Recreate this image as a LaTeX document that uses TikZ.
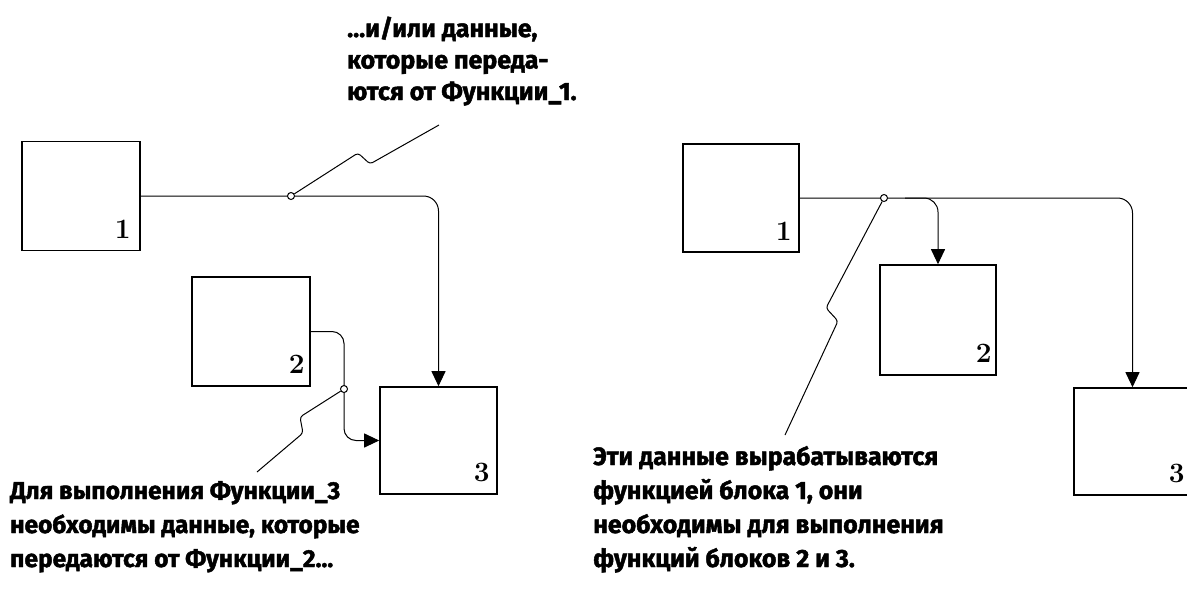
\documentclass[tikz,border=0pt]{standalone}
\usepackage{fontspec}
\newfontfamily\hand{Fira Sans}[BoldFeatures={FakeBold=1.8}]
\usetikzlibrary{arrows.meta,calc}
\begin{document}
\begin{tikzpicture}[x=1pt,y=-1pt,
  box/.style={draw,line width=1.6pt,inner sep=0pt},
  flow/.style={line width=1pt,-{Triangle[length=15pt,width=14pt]}},
  junc/.style={circle,draw,line width=1pt,fill=white,inner sep=0pt,minimum size=7pt},
  callout/.style={line width=1pt,rounded corners=3pt},
  note/.style={inner sep=0pt,anchor=base west,font=\hand\bfseries},
  num/.style={inner sep=0pt,anchor=base east,font=\fontsize{28}{28}\selectfont\bfseries}]
\useasboundingbox (0,0) rectangle (1187,592);
\clip (0,0) rectangle (1187,592);
% ---------- left diagram ----------
\node[box,minimum width=118pt,minimum height=109pt] (b1L) at (81,196) {};
\node[box,minimum width=118pt,minimum height=109pt] (b2L) at (251,331.5) {};
\node[box,minimum width=117pt,minimum height=107pt] (b3L) at (438.5,440.5) {};
\node[num] (n1L) at ($(b1L.south east)+(-10,-13)$) {1};
\node[num] (n2L) at ($(b2L.south east)+(-6,-13)$) {2};
\node[num] (n3L) at ($(b3L.south east)+(-8,-13)$) {3};
\draw[flow,rounded corners=15pt] (b1L.east) -| (b3L.north);
\coordinate (k2) at (344,389);
\draw[flow,rounded corners=12pt] (b2L.east) -| (k2) |- (b3L.west);
\node[junc] (j1) at (291,196) {};
\node[junc] (j2) at (k2) {};
\coordinate (c1) at (439,125);
\coordinate (c2) at (257,472);
\draw[callout] (j1) -- (358,153) -- (370,164) -- (c1);
\draw[callout] (j2) -- (300,417) -- (303,433) -- (c2);
\node[note] (t1) at (347,37) {\parbox[t]{280pt}{\fontsize{25}{31.5}\selectfont ...и/или данные,\\которые переда-\\ются от Функции\_1.}};
\node[note] (t2) at (10,499) {\parbox[t]{380pt}{\fontsize{24.5}{34}\selectfont Для выполнения Функции\_3\\необходимы данные, которые\\передаются от Функции\_2...}};
% ---------- right diagram ----------
\node[box,minimum width=116pt,minimum height=108pt] (b1R) at (741,198) {};
\node[box,minimum width=116pt,minimum height=110pt] (b2R) at (938,320) {};
\node[box,minimum width=117pt,minimum height=107pt] (b3R) at (1132.5,441.5) {};
\node[num] (n1R) at ($(b1R.south east)+(-8,-12)$) {1};
\node[num] (n2R) at ($(b2R.south east)+(-5,-13)$) {2};
\node[num] (n3R) at ($(b3R.south east)+(-7,-13)$) {3};
\draw[flow,rounded corners=15pt] (b1R.east) -| (b3R.north);
\coordinate (br) at (905,198);
\draw[flow,rounded corners=14pt] (br) -| (b2R.north);
\node[junc] (j3) at (884,198) {};
\coordinate (c3) at (785,435);
\draw[callout] (j3) -- (826,308) -- (838,321) -- (c3);
\node[note] (t3) at (593,465) {\parbox[t]{380pt}{\fontsize{25}{34}\selectfont Эти данные вырабатываются\\функцией блока 1, они\\необходимы для выполнения\\функций блоков 2 и 3.}};
\end{tikzpicture}
\end{document}
